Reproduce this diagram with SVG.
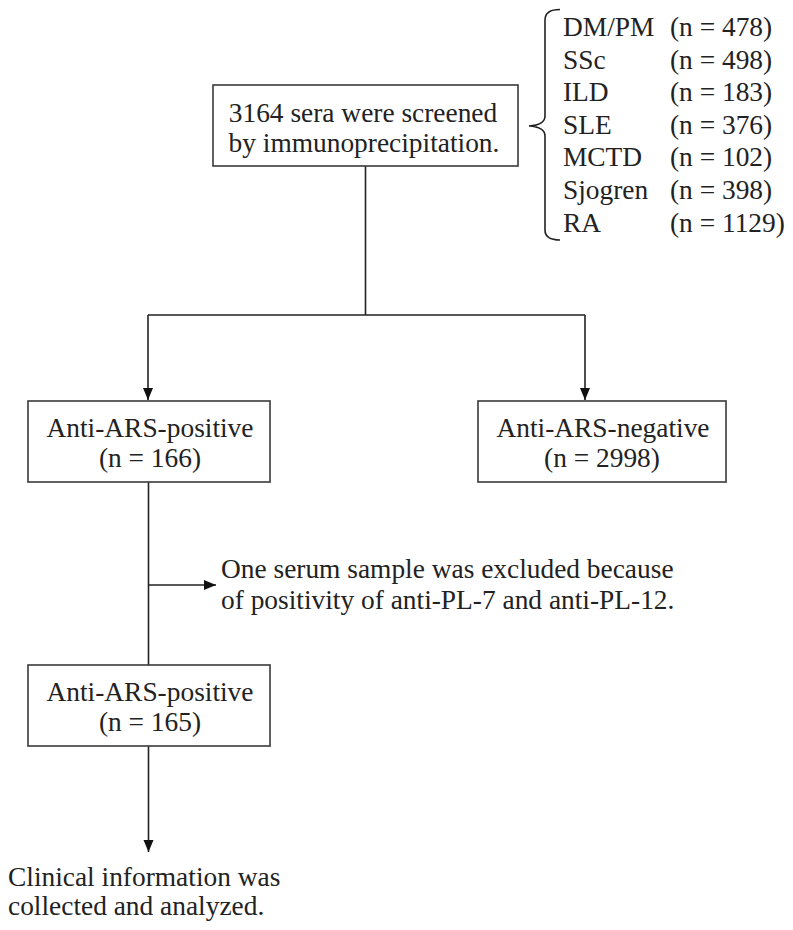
<svg xmlns="http://www.w3.org/2000/svg" width="793" height="930" viewBox="0 0 793 930">
<defs>
<style>
text{font-family:'Liberation Serif','Times New Roman',serif;font-size:27.4px;fill:#222}
.c{text-anchor:middle}
.box{fill:#fff;stroke:#3a3a3a;stroke-width:1.6}
.ln{fill:none;stroke:#222;stroke-width:1.6}
</style>
<marker id="ah" markerUnits="userSpaceOnUse" markerWidth="14" markerHeight="12" refX="12" refY="5" orient="auto">
<path d="M0,0 L12,5 L0,10 Z" fill="#111"/>
</marker>
</defs>
<rect width="793" height="930" fill="#fff"/>
<g id="connectors">
<path class="ln" d="M365.5 166 L365.5 315 M148 315 L585 315"/>
<path class="ln" d="M148 315 L148 400" marker-end="url(#ah)"/>
<path class="ln" d="M585 315 L585 400" marker-end="url(#ah)"/>
<path class="ln" d="M148.5 482 L148.5 665"/>
<path class="ln" d="M148.5 585 L216 585" marker-end="url(#ah)"/>
<path class="ln" d="M148.5 746 L148.5 852" marker-end="url(#ah)"/>
<path class="ln" d="M560 9.5 Q545 9.5 545 20 L545 116 Q545 125 529 126 Q545 127 545 136 L545 230 Q545 240 560 240"/>
</g>
<g id="screen">
<rect class="box" x="213" y="85" width="305" height="81"/>
<text class="c" x="363" y="122">3164 sera were screened</text>
<text class="c" x="364" y="152">by immunoprecipitation.</text>
</g>
<g id="groups">
<text x="563" y="36">DM/PM</text><text x="670" y="36">(n = 478)</text>
<text x="563" y="68.6">SSc</text><text x="670" y="68.6">(n = 498)</text>
<text x="563" y="101.2">ILD</text><text x="670" y="101.2">(n = 183)</text>
<text x="563" y="133.8">SLE</text><text x="670" y="133.8">(n = 376)</text>
<text x="563" y="166.4">MCTD</text><text x="670" y="166.4">(n = 102)</text>
<text x="563" y="199">Sjogren</text><text x="670" y="199">(n = 398)</text>
<text x="563" y="231.6">RA</text><text x="670" y="231.6">(n = 1129)</text>
</g>
<g id="positive">
<rect class="box" x="28" y="401" width="242" height="81"/>
<text class="c" x="150" y="437">Anti-ARS-positive</text>
<text class="c" x="150" y="467">(n = 166)</text>
</g>
<g id="negative">
<rect class="box" x="478" y="401" width="248" height="81"/>
<text class="c" x="603" y="437">Anti-ARS-negative</text>
<text class="c" x="602" y="467">(n = 2998)</text>
</g>
<g id="excluded">
<text x="221" y="578">One serum sample was excluded because</text>
<text x="221" y="609">of positivity of anti-PL-7 and anti-PL-12.</text>
</g>
<g id="positive2">
<rect class="box" x="28" y="665" width="242" height="81"/>
<text class="c" x="150" y="701">Anti-ARS-positive</text>
<text class="c" x="150" y="731">(n = 165)</text>
</g>
<g id="clinical">
<text x="8" y="886">Clinical information was</text>
<text x="8" y="915">collected and analyzed.</text>
</g>
</svg>
